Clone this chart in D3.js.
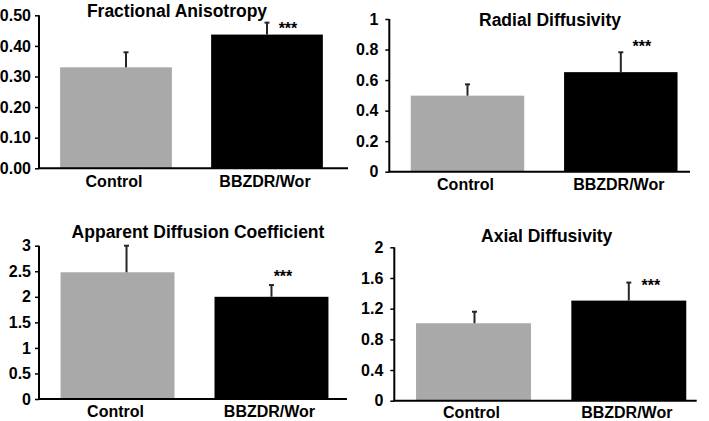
<!DOCTYPE html>
<html>
<head>
<meta charset="utf-8">
<script src="https://cdn.jsdelivr.net/npm/d3@7"></script>
<style>
  html, body { margin: 0; padding: 0; background: #fff; }
  svg { display: block; font-family: "Liberation Sans", Arial, sans-serif; }
</style>
</head>
<body>
<svg id="chart" width="709" height="421"></svg>
<script>
// ---- data ----
const categories = ["Control", "BBZDR/Wor"];
const titles = ["Fractional Anisotropy", "Radial Diffusivity", "Apparent Diffusion Coefficient", "Axial Diffusivity"];
const faMeans = [0.33, 0.437];
const faSD = [0.049, 0.039];
const rdMeans = [0.498, 0.652];
const rdSD = [0.074, 0.13];
const adcMeans = [2.48, 2.0];
const adcSD = [0.52, 0.23];
const adMeans = [1.01, 1.305];
const adSD = [0.15, 0.235];
const faTicks = ["0.00", "0.10", "0.20", "0.30", "0.40", "0.50"];
const rdTicks = ["0", "0.2", "0.4", "0.6", "0.8", "1"];
const adcTicks = ["0", "0.5", "1", "1.5", "2", "2.5", "3"];
const adTicks = ["0", "0.4", "0.8", "1.2", "1.6", "2"];
const significance = ["", "***"];

// ---- layout (pixels) ----
const layouts = [
  { means: faMeans, sd: faSD, ticks: faTicks, max: 0.5, ax: 39, axR: 348, bandR: 344, y0: 168.3, y1: 15.3, titleX: 177, titleY: 16.7, catY: 186.7, starDx: 21, starDy: 11, errDx: [10, 0] },
  { means: rdMeans, sd: rdSD, ticks: rdTicks, max: 1, ax: 389.3, axR: 690, bandR: 699, y0: 171.7, y1: 19, titleX: 550, titleY: 26, catY: 190, starDx: 21, starDy: -0.5, errDx: [0, 0] },
  { means: adcMeans, sd: adcSD, ticks: adcTicks, max: 3, ax: 39, axR: 347, bandR: 350, y0: 399, y1: 245.7, titleX: 198, titleY: 238.3, catY: 416.7, starDx: 11.5, starDy: -3, errDx: [9, 0] },
  { means: adMeans, sd: adSD, ticks: adTicks, max: 2, ax: 394.3, axR: 696.7, bandR: 708, y0: 400.7, y1: 247.3, titleX: 546.7, titleY: 242.3, catY: 418.3, starDx: 22, starDy: 8.5, errDx: [1, 0] }
];

const colors = ["#a9a9a9", "#000000"];
const svg = d3.select("#chart");

layouts.forEach((L, i) => {
  const g = svg.append("g");
  const x = d3.scaleBand().domain(categories).range([L.ax, L.bandR]).paddingInner(0.26).paddingOuter(0.14);
  const y = d3.scaleLinear().domain([0, L.max]).range([L.y0, L.y1]);

  // bars
  g.selectAll("rect.bar").data(categories).join("rect")
    .attr("class", "bar")
    .attr("x", d => x(d))
    .attr("width", x.bandwidth())
    .attr("y", (d, j) => y(L.means[j]))
    .attr("height", (d, j) => y(0) - y(L.means[j]))
    .attr("fill", (d, j) => colors[j]);

  // error bars (upper only)
  const eg = g.selectAll("g.err").data(categories).join("g").attr("class", "err");
  eg.append("line")
    .attr("x1", (d, j) => x(d) + x.bandwidth() / 2 + L.errDx[j])
    .attr("x2", (d, j) => x(d) + x.bandwidth() / 2 + L.errDx[j])
    .attr("y1", (d, j) => y(L.means[j]))
    .attr("y2", (d, j) => y(L.means[j] + L.sd[j]))
    .attr("stroke", "#262626").attr("stroke-width", 2);
  eg.append("line")
    .attr("x1", (d, j) => x(d) + x.bandwidth() / 2 + L.errDx[j] - 2.5)
    .attr("x2", (d, j) => x(d) + x.bandwidth() / 2 + L.errDx[j] + 2.5)
    .attr("y1", (d, j) => y(L.means[j] + L.sd[j]))
    .attr("y2", (d, j) => y(L.means[j] + L.sd[j]))
    .attr("stroke", "#262626").attr("stroke-width", 2);

  // y axis
  const tickVals = L.ticks.map(Number);
  const yAxis = d3.axisLeft(y).tickValues(tickVals).tickFormat((d, k) => L.ticks[k]).tickSize(4).tickPadding(i === 0 || i === 2 ? 4 : 7);
  const ya = g.append("g").attr("transform", `translate(${L.ax},0)`).call(yAxis);
  ya.select(".domain").attr("d", `M0,${L.y0}V${L.y1}`).attr("stroke", "#000").attr("stroke-width", 2);
  ya.selectAll(".tick line").attr("stroke", "#000").attr("stroke-width", 1.5);
  ya.selectAll(".tick text").attr("fill", "#000").style("font-size", "16px").style("font-weight", "bold");

  // x axis line
  g.append("line")
    .attr("x1", L.ax - 1).attr("x2", L.axR)
    .attr("y1", L.y0).attr("y2", L.y0)
    .attr("stroke", "#000").attr("stroke-width", 2);

  // category labels
  g.selectAll("text.cat").data(categories).join("text")
    .attr("class", "cat")
    .attr("x", d => x(d) + x.bandwidth() / 2 - 2)
    .attr("y", L.catY)
    .attr("text-anchor", "middle")
    .style("font-size", "16px").style("font-weight", "bold")
    .text(d => d);

  // title
  g.append("text")
    .attr("x", L.titleX).attr("y", L.titleY)
    .attr("text-anchor", "middle")
    .style("font-size", "17.5px").style("font-weight", "bold")
    .text(titles[i]);

  // significance stars
  g.selectAll("text.sig").data(categories).join("text")
    .attr("class", "sig")
    .attr("x", d => x(d) + x.bandwidth() / 2 + L.starDx)
    .attr("y", (d, j) => y(L.means[j] + L.sd[j]) + L.starDy)
    .attr("text-anchor", "middle")
    .style("font-size", "16px").style("font-weight", "bold")
    .text((d, j) => significance[j]);
});
</script>
</body>
</html>
